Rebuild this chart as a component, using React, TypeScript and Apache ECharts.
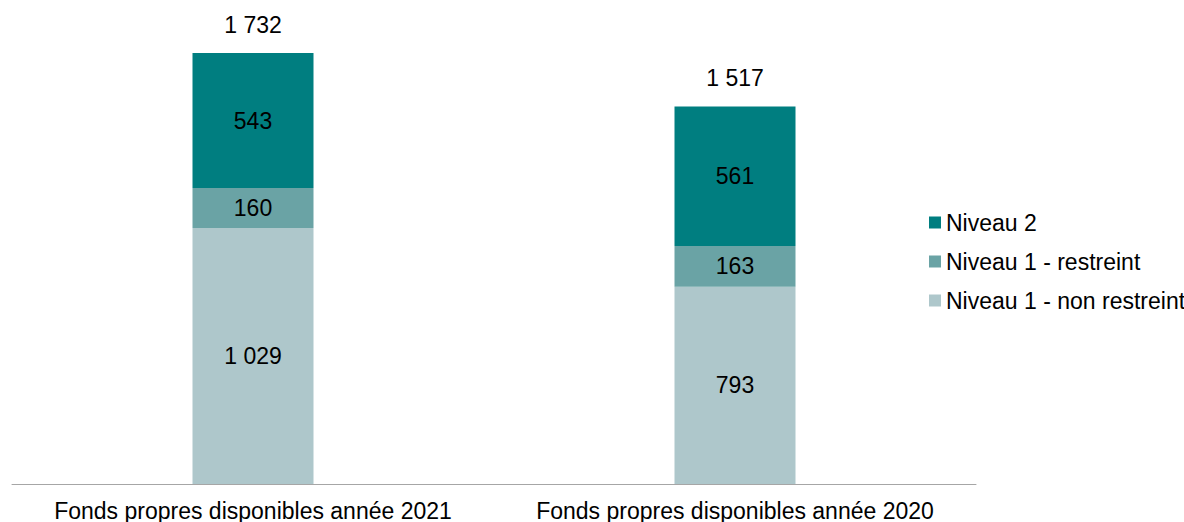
import React, { useEffect, useRef } from "react";
import * as echarts from "echarts";

const categories = [
  "Fonds propres disponibles année 2021",
  "Fonds propres disponibles année 2020",
];
const niveau1NonRestreint = [1029, 793];
const niveau1Restreint = [160, 163];
const niveau2 = [543, 561];
const totals = [1732, 1517];

const seriesNames = ["Niveau 2", "Niveau 1 - restreint", "Niveau 1 - non restreint"];
const colors = { n2: "#007E80", n1r: "#6AA3A5", n1nr: "#AEC7CB" };

const fmt = (v: number) => String(v).replace(/\B(?=(\d{3})+(?!\d))/g, " ");
const FONT = "'Liberation Sans', Arial, sans-serif";

export default function App() {
  const ref = useRef<HTMLDivElement>(null);
  useEffect(() => {
    if (!ref.current) return;
    const chart = echarts.init(ref.current, undefined, { renderer: "svg" });
    const inside = {
      show: true,
      position: "inside" as const,
      color: "#000",
      fontSize: 23,
      fontFamily: FONT,
      formatter: (p: any) => fmt(p.value),
    };
    chart.setOption({
      animation: false,
      textStyle: { fontFamily: FONT },
      grid: { left: 12, right: 208, top: 53, bottom: 38, containLabel: false },
      legend: {
        orient: "vertical",
        left: 924,
        top: 206,
        icon: "rect",
        itemWidth: 12,
        itemHeight: 12,
        itemGap: 16,
        data: seriesNames,
        textStyle: { fontSize: 23, lineHeight: 23, color: "#000", fontFamily: FONT },
      },
      xAxis: {
        type: "category",
        data: categories,
        axisLine: { lineStyle: { color: "#A6A6A6", width: 1 } },
        axisTick: { show: false },
        axisLabel: { interval: 0, fontSize: 23, color: "#000", margin: 15, fontFamily: FONT },
      },
      yAxis: {
        type: "value",
        min: 0,
        max: 1732,
        show: false,
        splitLine: { show: false },
      },
      series: [
        {
          name: "Niveau 1 - non restreint",
          type: "bar",
          stack: "t",
          barWidth: 121,
          data: niveau1NonRestreint,
          itemStyle: { color: colors.n1nr },
          label: inside,
        },
        {
          name: "Niveau 1 - restreint",
          type: "bar",
          stack: "t",
          barWidth: 121,
          data: niveau1Restreint,
          itemStyle: { color: colors.n1r },
          label: inside,
        },
        {
          name: "Niveau 2",
          type: "bar",
          stack: "t",
          barWidth: 121,
          data: niveau2,
          itemStyle: { color: colors.n2 },
          label: inside,
        },
        {
          name: "Total",
          type: "bar",
          stack: "t",
          barWidth: 121,
          data: totals.map(() => 0),
          itemStyle: { color: "transparent" },
          label: {
            show: true,
            position: "top",
            distance: 17,
            color: "#000",
            fontSize: 23,
            fontFamily: FONT,
            formatter: (p: any) => fmt(totals[p.dataIndex]),
          },
        },
      ],
    });
    return () => chart.dispose();
  }, []);
  return (
    <div
      ref={ref}
      style={{ position: "fixed", left: 0, top: 0, width: 1184, height: 522, background: "#fff" }}
    />
  );
}
